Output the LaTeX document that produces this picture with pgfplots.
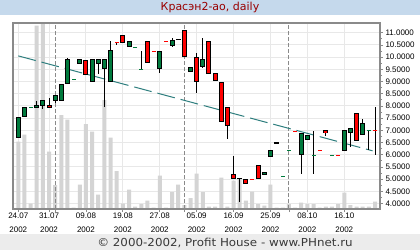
\documentclass[border=0pt]{standalone}
\usepackage{fontspec}
\setmainfont{Liberation Sans}
\newfontfamily\dejavu{DejaVu Sans}
\usepackage{pgfplots}
\pgfplotsset{compat=1.18}
\usepackage{pgfplotstable}

\definecolor{bandblue}{HTML}{C5D9EC}
\definecolor{bandgray}{HTML}{ECECEC}
\definecolor{titlered}{HTML}{990000}
\definecolor{cgreen}{HTML}{007A3D}
\definecolor{cred}{HTML}{FF0000}
\definecolor{trendc}{HTML}{2E7E7E}
\definecolor{gridc}{HTML}{E8E8E8}
\definecolor{volc}{HTML}{D4D4D4}
\definecolor{framec}{HTML}{8A8A8A}

% t: 1 up body, 2 down body, 3 flat green, 4 flat red, 5 tiny black body
\pgfplotstableread{
i o h l c v t
0 6.67 7.56 6.67 7.56 67.5 1
1 7.56 7.97 7.56 7.97 74.5 1
2 7.94 7.94 7.94 7.94 5.5 3
3 7.94 8.20 7.94 8.02 183.5 1
4 7.98 8.23 7.86 8.23 200 1
5 8.02 8.31 7.94 7.94 57.5 2
6 8.21 8.43 8.10 8.43 23.8 1
7 8.20 8.89 8.20 8.89 94 1
8 8.89 9.95 8.89 9.91 89.5 1
9 9.09 9.09 9.09 9.09 1.5 3
10 9.70 9.91 9.70 9.91 24.5 1
11 9.87 9.87 9.25 9.25 85 2
12 9.00 9.91 9.00 9.91 77.5 1
13 9.70 9.91 9.29 9.91 14.5 1
14 9.50 9.91 7.97 9.91 109 1
15 9.00 10.66 9.00 10.28 71.5 1
16 10.61 10.61 10.49 10.61 38 4
17 10.91 10.91 10.57 10.57 5.5 2
18 10.40 10.67 10.40 10.67 19.5 1
19 10.40 10.40 10.40 10.40 2.5 3
20 9.50 10.25 9.50 9.50 5 3
21 10.66 10.66 9.77 9.77 8.5 2
22 10.25 10.25 10.25 10.25 1.5 4
23 9.50 10.25 9.36 10.25 33.5 1
24 10.66 10.66 10.66 10.66 1.5 4
25 10.47 10.77 10.43 10.70 17 1
26 10.76 10.76 10.72 10.72 24.5 5
27 11.10 11.10 9.99 9.99 4 2
28 9.38 9.61 9.38 9.61 11 1
29 9.99 10.16 8.52 8.99 35.5 2
30 9.61 10.77 9.57 9.91 17 1
31 10.67 10.67 9.31 9.31 2.5 2
32 9.34 9.34 9.01 9.01 2.5 2
33 8.97 8.97 7.33 7.33 31.5 2
34 7.97 7.97 6.63 7.19 2.5 2
35 5.20 5.95 4.99 4.99 28.5 2
36 5.05 5.05 4.07 5.01 30.8 5
37 4.99 4.99 4.80 4.80 8.5 2
38 4.99 4.99 4.99 4.99 17.5 4
39 5.57 5.57 4.99 4.99 5 2
40 5.20 5.28 5.20 5.28 3.5 1
41 5.89 6.18 5.89 6.18 24.5 1
42 6.47 6.51 6.47 6.51 1.5 5
43 5.09 5.09 5.09 5.09 1.5 3
44 6.18 6.18 6.18 6.18 5 3
45 6.96 6.96 6.96 6.96 1.5 4
46 5.98 6.88 5.22 6.88 6.5 1
47 6.59 6.80 6.59 6.80 5 1
48 5.98 6.96 5.19 5.98 5 3
49 6.18 6.18 6.18 6.18 1.5 4
50 7.00 7.00 6.78 6.88 2.5 2
51 5.98 5.98 5.98 5.98 2.5 3
52 5.98 5.98 5.98 5.98 5 4
53 6.14 7.00 6.14 7.00 16.5 1
54 6.88 7.08 6.30 7.08 4 1
55 7.70 7.70 6.55 6.55 2.5 2
56 6.79 7.45 6.79 7.29 2.5 1
57 7.00 7.00 6.18 7.00 2.5 3
58 7.00 7.94 6.00 7.00 7.5 4
}\data

\pgfplotsset{
  base/.style={at={(13pt,41pt)}, anchor=south west, scale only axis,
    width=367pt, height=186pt, xmin=-0.86, xmax=58.81},
  pr/.style={ymin=3.775, ymax=11.398,
    ytick={4,4.5,5,5.5,6,6.5,7,7.5,8,8.5,9,9.5,10,10.5,11},
    xtick={0,5,11,17,23,29,35,41,47,53}},
  nomark/.style={only marks, mark=*, mark size=0pt, mark options={draw=none, fill=none}},
  body/.style 2 args={nomark,
    restrict expr to domain={\thisrow{t}}{#1:#1},
    error bars/.cd, y dir=both, y explicit, error mark=none,
    error bar style={#2}},
}

\begin{document}
\begin{tikzpicture}
\path[use as bounding box] (0,0) rectangle (420pt,250pt);
\fill[white] (0,0) rectangle (420pt,250pt);
\fill[bandblue] (0,235pt) rectangle (420pt,250pt);
\fill[bandgray] (0,0) rectangle (420pt,16pt);
\node[font=\dejavu\fontsize{11}{12}\selectfont, text=titlered] at (210pt,242.5pt) {Красэн2-ао, daily};
\node[font=\dejavu\fontsize{11}{12}\selectfont, text=black!78, xscale=1.08] at (225pt,7pt) {© 2000-2002, Profit House - www.PHnet.ru};

% grid
\begin{axis}[base, pr, grid=major, major grid style={gridc, line width=1pt},
  axis line style={draw=none}, xticklabels={}, yticklabels={}, major tick length=0pt]
\addplot[draw=none] coordinates {(0,5)};
\end{axis}

% volume
\begin{axis}[base, ymin=0, ymax=186, hide axis]
\addplot[ybar, bar width=4pt, fill=volc, draw=none] table[x=i, y=v] {\data};
\end{axis}

% price
\begin{axis}[base, pr,
  axis line style={framec, line width=1.2pt},
  ytick pos=right, yticklabel pos=right, xtick pos=bottom,
  tick align=outside, major tick length=3pt, minor tick length=2pt,
  minor y tick num=1,
  tick style={framec, line width=0.8pt},
  yticklabel style={font=\fontsize{8}{9}\selectfont, xshift=-1pt,
    /pgf/number format/.cd, fixed, fixed zerofill, precision=4, assume math mode=true},
  xticklabels={{24.07\\2002},{31.07\\2002},{09.08\\2002},{19.08\\2002},{27.08\\2002},{05.09\\2002},{16.09\\2002},{25.09\\2002},{08.10\\2002},{16.10\\2002}},
  xticklabel style={align=center, font=\fontsize{8}{14}\selectfont, inner sep=1pt},
  extra x ticks={6,27,44}, extra x tick labels={},
  extra x tick style={grid=major, major grid style={framec, dash pattern=on 4pt off 2pt, line width=0.9pt}},
]
\addplot[trendc, line width=1pt, dash pattern=on 18pt off 6pt] coordinates {(0,10.05) (57.6,6.16)};
% wicks (only where high > low)
\addplot[nomark,
  restrict expr to domain={\thisrow{h}-\thisrow{l}}{0.001:100},
  error bars/.cd, y dir=both, y explicit, error mark=none,
  error bar style={black, line width=1pt}]
  table[x=i, y expr={(\thisrow{h}+\thisrow{l})/2}, y error expr={(\thisrow{h}-\thisrow{l})/2}] {\data};
% up bodies
\addplot[body={1}{black, line width=5pt}]
  table[x=i, y expr={(\thisrow{o}+\thisrow{c})/2}, y error expr={max(abs(\thisrow{c}-\thisrow{o})/2,0.062)}] {\data};
\addplot[body={1}{cgreen, line width=3pt}]
  table[x=i, y expr={(\thisrow{o}+\thisrow{c})/2}, y error expr={max(abs(\thisrow{c}-\thisrow{o})/2-0.041,0.021)}] {\data};
% down bodies
\addplot[body={2}{black, line width=5pt}]
  table[x=i, y expr={(\thisrow{o}+\thisrow{c})/2}, y error expr={max(abs(\thisrow{c}-\thisrow{o})/2,0.062)}] {\data};
\addplot[body={2}{cred, line width=3pt}]
  table[x=i, y expr={(\thisrow{o}+\thisrow{c})/2}, y error expr={max(abs(\thisrow{c}-\thisrow{o})/2-0.041,0.021)}] {\data};
% tiny black bodies
\addplot[body={5}{black, line width=5pt}]
  table[x=i, y expr={(\thisrow{o}+\thisrow{c})/2}, y error expr={abs(\thisrow{c}-\thisrow{o})/2}] {\data};
% flat candles
\addplot[only marks, mark=-, mark size=2pt, mark options={draw=cgreen, line width=1pt, line cap=butt},
  restrict expr to domain={\thisrow{t}}{3:3}] table[x=i, y=c] {\data};
\addplot[only marks, mark=-, mark size=2pt, mark options={draw=cred, line width=1pt, line cap=butt},
  restrict expr to domain={\thisrow{t}}{4:4}] table[x=i, y=c] {\data};
\end{axis}
\end{tikzpicture}
\end{document}
